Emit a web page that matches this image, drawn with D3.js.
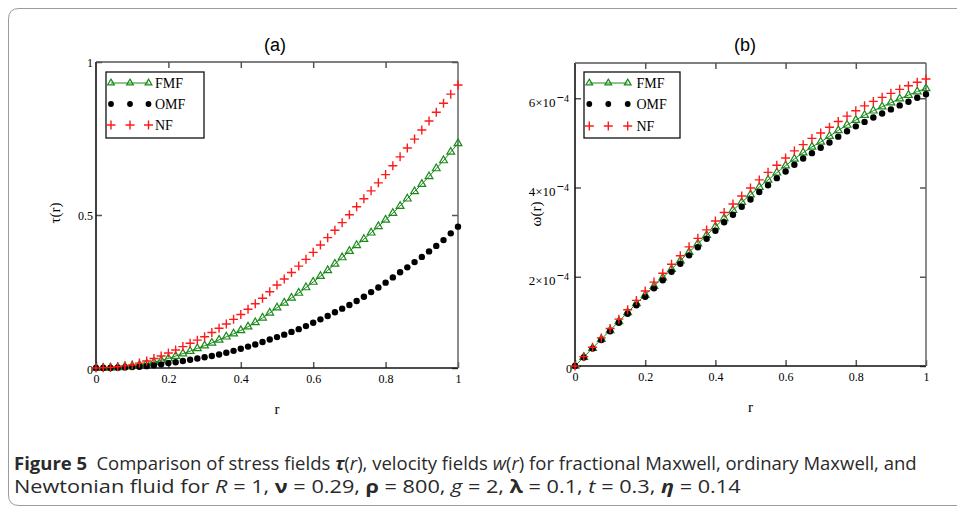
<!DOCTYPE html>
<html>
<head>
<meta charset="utf-8">
<script src="https://cdn.jsdelivr.net/npm/d3@7"></script>
<style>
body{margin:0;background:#fff;}
svg{display:block;}
.tick text{font-family:"Liberation Serif","Times New Roman",serif;font-size:12px;fill:#000;}
</style>
</head>
<body>
<svg id="fig" width="957" height="511"></svg>
<script>
// ---- data ----
var seriesNames = ["FMF", "OMF", "NF"];

// panel (a): stress tau(r)
var rA = [0,0.02,0.04,0.06,0.08,0.1,0.12,0.14,0.16,0.18,0.2,0.22,0.24,0.26,0.28,0.3,0.32,0.34,0.36,0.38,0.4,0.42,0.44,0.46,0.48,0.5,0.52,0.54,0.56,0.58,0.6,0.62,0.64,0.66,0.68,0.7,0.72,0.74,0.76,0.78,0.8,0.82,0.84,0.86,0.88,0.9,0.92,0.94,0.96,0.98,1];
var tauFMF = [0,0,0.001,0.002,0.004,0.007,0.010,0.014,0.019,0.025,0.031,0.039,0.047,0.055,0.064,0.073,0.082,0.092,0.102,0.112,0.123,0.135,0.149,0.164,0.180,0.197,0.213,0.229,0.245,0.263,0.281,0.300,0.319,0.340,0.361,0.382,0.401,0.421,0.442,0.463,0.484,0.506,0.529,0.553,0.577,0.601,0.626,0.652,0.678,0.706,0.734];
var tauOMF = [0,0,0,0.001,0.002,0.003,0.004,0.006,0.009,0.012,0.016,0.019,0.023,0.027,0.031,0.035,0.039,0.044,0.050,0.056,0.063,0.070,0.077,0.085,0.093,0.101,0.109,0.118,0.127,0.137,0.148,0.159,0.170,0.182,0.194,0.206,0.219,0.233,0.248,0.263,0.279,0.296,0.313,0.329,0.346,0.363,0.381,0.399,0.418,0.440,0.462];
var tauNF = [0,0.001,0.002,0.004,0.007,0.010,0.016,0.023,0.031,0.039,0.049,0.059,0.070,0.081,0.091,0.102,0.116,0.130,0.144,0.159,0.175,0.192,0.210,0.228,0.249,0.271,0.291,0.312,0.333,0.355,0.378,0.402,0.426,0.450,0.475,0.501,0.527,0.553,0.579,0.605,0.632,0.661,0.690,0.719,0.748,0.778,0.807,0.836,0.865,0.895,0.925];

// panel (b): velocity w(r), in units of 1e-4
var rB = [0,0.025,0.05,0.075,0.1,0.125,0.15,0.175,0.2,0.225,0.25,0.275,0.3,0.325,0.35,0.375,0.4,0.425,0.45,0.475,0.5,0.525,0.55,0.575,0.6,0.625,0.65,0.675,0.7,0.725,0.75,0.775,0.8,0.825,0.85,0.875,0.9,0.925,0.95,0.975,1];
var wFMF = [0,0.20,0.40,0.60,0.80,1.00,1.20,1.40,1.59,1.79,1.98,2.17,2.36,2.55,2.74,2.93,3.12,3.31,3.49,3.67,3.84,4.01,4.17,4.33,4.49,4.64,4.78,4.91,5.02,5.15,5.28,5.40,5.51,5.62,5.72,5.81,5.90,5.99,6.07,6.15,6.22];
var wOMF = [0,0.19,0.39,0.58,0.78,0.97,1.17,1.36,1.55,1.74,1.92,2.11,2.29,2.48,2.66,2.85,3.03,3.22,3.39,3.57,3.73,3.90,4.05,4.21,4.36,4.51,4.65,4.77,4.89,5.01,5.14,5.26,5.37,5.47,5.57,5.66,5.75,5.84,5.92,6.01,6.09];
var wNF = [0,0.21,0.42,0.63,0.84,1.05,1.26,1.47,1.68,1.88,2.08,2.28,2.47,2.67,2.86,3.05,3.25,3.44,3.63,3.81,3.99,4.17,4.34,4.50,4.66,4.82,4.96,5.10,5.22,5.35,5.48,5.60,5.72,5.83,5.93,6.02,6.11,6.20,6.28,6.36,6.43];

var xTicks = [0, 0.2, 0.4, 0.6, 0.8, 1];
var xTickLabels = ["0", "0.2", "0.4", "0.6", "0.8", "1"];
var yTicksA = [0, 0.5, 1];
var yTickLabelsA = ["0", "0.5", "1"];
var yTicksB = [0, 2, 4, 6];
var yTickMantB = ["0", "2", "4", "6"];

var svg = d3.select("#fig");
var serif = '"Liberation Serif","Times New Roman",serif';

// outer rounded frame of the figure
svg.append("path")
    .attr("d", "M957,8.5H19Q8.5,8.5 8.5,19V495Q8.5,505.5 19,505.5H957")
    .attr("fill", "none").attr("stroke", "#9c9c9c").attr("stroke-width", 1);

function marker(sel, kind, small) {
    if (kind === "FMF") {
        sel.append("path").attr("d", d3.symbol().type(d3.symbolTriangle).size(small ? 20 : 26))
            .attr("fill", "none").attr("stroke", "#1a8a1a").attr("stroke-width", 1.2);
    } else if (kind === "OMF") {
        sel.append("circle").attr("r", small ? 2.9 : 3.2).attr("fill", "#000");
    } else {
        sel.append("path").attr("d", "M-4.5,0H4.5M0,-4.5V4.5")
            .attr("stroke", "#ff1a1a").attr("stroke-width", 1.4).attr("fill", "none");
    }
}

function drawPanel(p) {
    var g = svg.append("g");
    var x = d3.scaleLinear().domain([0, 1]).range([p.x0, p.x1]);
    var y = d3.scaleLinear().domain(p.yDomain).range([p.y0, p.y1]);

    // title
    g.append("text").attr("x", p.titleX).attr("y", 51).attr("text-anchor", "middle")
        .attr("font-family", '"Liberation Sans",Arial,sans-serif').attr("font-size", 18)
        .text(p.title);

    // axes (inward ticks)
    var bottom = g.append("g").attr("transform", "translate(0," + p.y0 + ")")
        .call(d3.axisBottom(x).tickValues(xTicks).tickFormat(function(d, i){ return xTickLabels[i]; })
            .tickSizeInner(-6).tickSizeOuter(0).tickPadding(6));
    var top = g.append("g").attr("transform", "translate(0," + p.y1 + ")")
        .call(d3.axisTop(x).tickValues(xTicks.slice(1, -1)).tickFormat("")
            .tickSizeInner(-6).tickSizeOuter(0));
    var left = g.append("g").attr("transform", "translate(" + p.x0 + ",0)")
        .call(d3.axisLeft(y).tickValues(p.yTicks).tickFormat("")
            .tickSizeInner(-6).tickSizeOuter(0));
    var right = g.append("g").attr("transform", "translate(" + p.x1 + ",0)")
        .call(d3.axisRight(y).tickValues(p.yTicks).tickFormat("")
            .tickSizeInner(-6).tickSizeOuter(0));
    [bottom, top, left, right].forEach(function(a){
        a.select(".domain").remove();
        a.selectAll(".tick line").attr("stroke", "#555").attr("stroke-width", 1.5);
    });

    // y tick labels
    left.selectAll(".tick").each(function(d, i){
        var t = d3.select(this).append("text").attr("fill", "#000")
            .attr("text-anchor", "end");
        p.yLabel(t, d, i);
    });

    // frame: left/bottom dark, top/right grey
    g.append("line").attr("x1", p.x0).attr("x2", p.x0).attr("y1", p.y0).attr("y2", p.y1)
        .attr("stroke", "#111").attr("stroke-width", 1.6);
    g.append("line").attr("x1", p.x0).attr("x2", p.x1).attr("y1", p.y0).attr("y2", p.y0)
        .attr("stroke", "#111").attr("stroke-width", 1.6);
    g.append("line").attr("x1", p.x0).attr("x2", p.x1).attr("y1", p.y1).attr("y2", p.y1)
        .attr("stroke", "#555").attr("stroke-width", 1.5);
    g.append("line").attr("x1", p.x1).attr("x2", p.x1).attr("y1", p.y0).attr("y2", p.y1)
        .attr("stroke", "#666").attr("stroke-width", 1.5);

    // axis titles
    g.append("text").attr("x", (p.x0 + p.x1) / 2).attr("y", p.xTitleY).attr("text-anchor", "middle")
        .attr("font-family", serif).attr("font-size", 15).text("r");
    g.append("text").attr("transform", "translate(" + p.yTitleX + "," + p.yTitleY + ") rotate(-90)")
        .attr("text-anchor", "middle").attr("font-family", serif).attr("font-size", 15)
        .text(p.yTitle);

    // series
    var line = d3.line().x(function(d){ return x(d[0]); }).y(function(d){ return y(d[1]); });
    var fmf = d3.zip(p.r, p.fmf);
    g.append("path").datum(fmf).attr("d", line).attr("fill", "none")
        .attr("stroke", "#1a8a1a").attr("stroke-width", 1);
    g.selectAll(".m-fmf").data(fmf).enter().append("g")
        .attr("transform", function(d){ return "translate(" + x(d[0]) + "," + y(d[1]) + ")"; })
        .call(marker, "FMF");
    g.selectAll(".m-omf").data(d3.zip(p.r, p.omf)).enter().append("g")
        .attr("transform", function(d){ return "translate(" + x(d[0]) + "," + y(d[1]) + ")"; })
        .call(marker, "OMF");
    g.selectAll(".m-nf").data(d3.zip(p.r, p.nf)).enter().append("g")
        .attr("transform", function(d){ return "translate(" + x(d[0]) + "," + y(d[1]) + ")"; })
        .call(marker, "NF");

    // legend
    var L = p.legend;
    g.append("rect").attr("x", L.x).attr("y", L.y).attr("width", L.w).attr("height", L.h)
        .attr("fill", "#fff").attr("stroke", "#111").attr("stroke-width", 1.3);
    seriesNames.forEach(function(name, i){
        var yy = L.rows[i];
        if (name === "FMF") {
            g.append("line").attr("x1", L.mx[0]).attr("x2", L.mx[2]).attr("y1", yy).attr("y2", yy)
                .attr("stroke", "#1a8a1a").attr("stroke-width", 1);
        }
        L.mx.forEach(function(mx){
            g.append("g").attr("transform", "translate(" + mx + "," + yy + ")").call(marker, name, true);
        });
        g.append("text").attr("x", L.tx).attr("y", yy + 5).attr("font-family", serif)
            .attr("font-size", 14).text(name);
    });
}

drawPanel({
    title: "(a)", titleX: 275,
    x0: 96, x1: 458, y0: 368, y1: 62, yDomain: [0, 1], yTicks: yTicksA,
    yLabel: function(t, d, i){
        t.attr("x", -3).attr("y", i === 0 ? 5 : 4).text(yTickLabelsA[i]);
    },
    xTitleY: 414, yTitleX: 60, yTitleY: 213, yTitle: "\u03c4(r)",
    r: rA, fmf: tauFMF, omf: tauOMF, nf: tauNF,
    legend: {x: 106, y: 72, w: 98, h: 66, rows: [83, 104, 125], mx: [111, 130, 148.5], tx: 155}
});

drawPanel({
    title: "(b)", titleX: 745,
    x0: 575, x1: 926, y0: 366, y1: 63, yDomain: [0, 6.79], yTicks: yTicksB,
    yLabel: function(t, d, i){
        if (i === 0) { t.attr("x", -3).attr("y", 6).text("0"); return; }
        t.attr("x", -6).attr("y", 8).style("font-size", "13px");
        t.append("tspan").text(yTickMantB[i] + "\u00d710");
        t.append("tspan").attr("dy", -5).attr("font-weight", "bold").attr("dx", 1).text("\u2212");
        t.append("tspan").style("font-size", "10px").text("4");
    },
    xTitleY: 412, yTitleX: 541, yTitleY: 214, yTitle: "\u03c9(r)",
    r: rB, fmf: wFMF, omf: wOMF, nf: wNF,
    legend: {x: 584, y: 72, w: 96, h: 66, rows: [83, 104, 126], mx: [589.3, 608.3, 627.7], tx: 636.5}
});

// caption
var cap = svg.append("g").attr("font-family", '"Open Sans","Noto Sans",sans-serif')
    .attr("font-size", 18).attr("fill", "#2a2a2a");
function captionLine(y, parts, width) {
    var t = cap.append("text").attr("x", 0).attr("y", 0);
    parts.forEach(function(p){
        var s = t.append("tspan").text(p[0]);
        if (p[1] && p[1].indexOf("b") >= 0) s.attr("font-weight", "bold");
        if (p[1] && p[1].indexOf("i") >= 0) s.attr("font-style", "italic");
    });
    var len = t.node().getComputedTextLength();
    t.attr("transform", "translate(14," + y + ") scale(" + (width / len) + ",1)");
}
captionLine(470, [
    ["Figure 5", "b"], ["\u2002Comparison of stress fields "], ["\u03c4", "bi"], ["("], ["r", "i"],
    ["), velocity fields "], ["w", "i"], ["("], ["r", "i"],
    [") for fractional Maxwell, ordinary Maxwell, and"]
], 903);
captionLine(493, [
    ["Newtonian fluid for "], ["R", "i"], [" = 1, "], ["\u03bd", "b"], [" = 0.29, "],
    ["\u03c1", "b"], [" = 800, "], ["g", "i"], [" = 2, "], ["\u03bb", "b"], [" = 0.1, "],
    ["t", "i"], [" = 0.3, "], ["\u03b7", "bi"], [" = 0.14"]
], 727);
</script>
</body>
</html>
